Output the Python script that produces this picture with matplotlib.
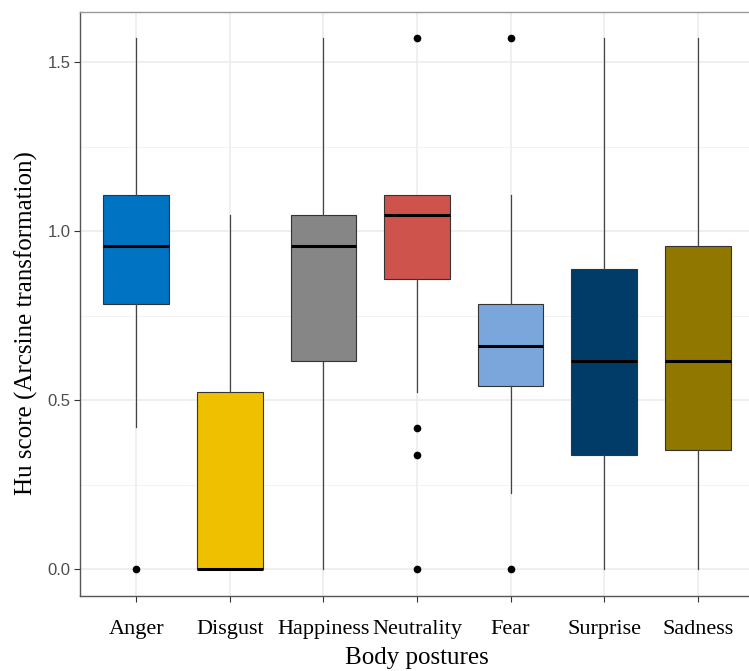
import numpy as np
import matplotlib
matplotlib.use("Agg")
import matplotlib.pyplot as plt

# values (arcsine-transformed Hu scores)
postures = ['Anger', 'Disgust', 'Happiness', 'Neutrality', 'Fear', 'Surprise', 'Sadness']
q1 = [0.785, 0.0, 0.615, 0.857, 0.542, 0.339, 0.354]
median = [0.955, 0.0, 0.955, 1.047, 0.659, 0.615, 0.615]
q3 = [1.107, 0.524, 1.047, 1.107, 0.785, 0.887, 0.955]
whisk_lo = [0.421, 0.0, 0.0, 0.524, 0.225, 0.0, 0.0]
whisk_hi = [1.571, 1.047, 1.571, 1.107, 1.107, 1.571, 1.571]
outliers = [[0.0], [], [], [1.571, 0.419, 0.339, 0.0], [1.571, 0.0], [], []]
colors = ['#0073C2', '#EFC000', '#868686', '#CD534C', '#7AA6DC', '#003C67', '#8F7700']

stats = []
for i in range(len(postures)):
    stats.append({'label': postures[i], 'q1': q1[i], 'med': median[i], 'q3': q3[i],
                  'whislo': whisk_lo[i], 'whishi': whisk_hi[i], 'fliers': outliers[i]})

fig = plt.figure(figsize=(7.49, 6.71), dpi=100)
ax = fig.add_axes([0.1068, 0.1122, 0.8999, 0.8704])

pos = np.arange(1, len(postures) + 1)
bp = ax.bxp(stats, positions=pos, widths=0.7, patch_artist=True, showcaps=False,
            boxprops=dict(edgecolor='#333333', linewidth=0.8),
            whiskerprops=dict(color='#444444', linewidth=0.9),
            medianprops=dict(color='black', linewidth=2.2),
            flierprops=dict(marker='o', markerfacecolor='black', markeredgecolor='black',
                            markersize=4.5, linestyle='none'))
for patch, c in zip(bp['boxes'], colors):
    patch.set_facecolor(c)

ax.set_xlim(0.4, 7.6)
ax.set_ylim(-0.0785, 1.6493)
ax.set_yticks([0.0, 0.5, 1.0, 1.5])
ax.set_yticklabels(['0.0', '0.5', '1.0', '1.5'])
ax.set_yticks([0.25, 0.75, 1.25], minor=True)
ax.set_xticks(pos)
ax.set_xticklabels(postures)

ax.grid(True, which='major', color='#EBEBEB', linewidth=1.1)
ax.grid(True, which='minor', axis='y', color='#F2F2F2', linewidth=0.7)
ax.set_axisbelow(True)

ax.tick_params(axis='y', which='major', length=4, width=0.8, color='#333333',
               labelcolor='#4D4D4D', labelsize=12, pad=3)
ax.tick_params(axis='y', which='minor', length=0)
ax.tick_params(axis='x', length=4, width=0.8, color='#333333', labelsize=16, pad=13.5)
for lbl in ax.get_yticklabels():
    lbl.set_family('Liberation Sans')
for lbl in ax.get_xticklabels():
    lbl.set_family('Liberation Serif')

ax.spines['left'].set_color('#555555')
ax.spines['bottom'].set_color('#555555')
ax.spines['top'].set_color('#999999')
ax.spines['right'].set_visible(False)
for s in ax.spines.values():
    s.set_linewidth(1.0)

ax.set_xlabel('Body postures', family='Liberation Serif', fontsize=18, labelpad=6)
ax.set_ylabel('Hu score (Arcsine transformation)', family='Liberation Serif', fontsize=18)
ax.yaxis.set_label_coords(-0.063, 0.467)

fig.savefig('out.png', dpi=100)
